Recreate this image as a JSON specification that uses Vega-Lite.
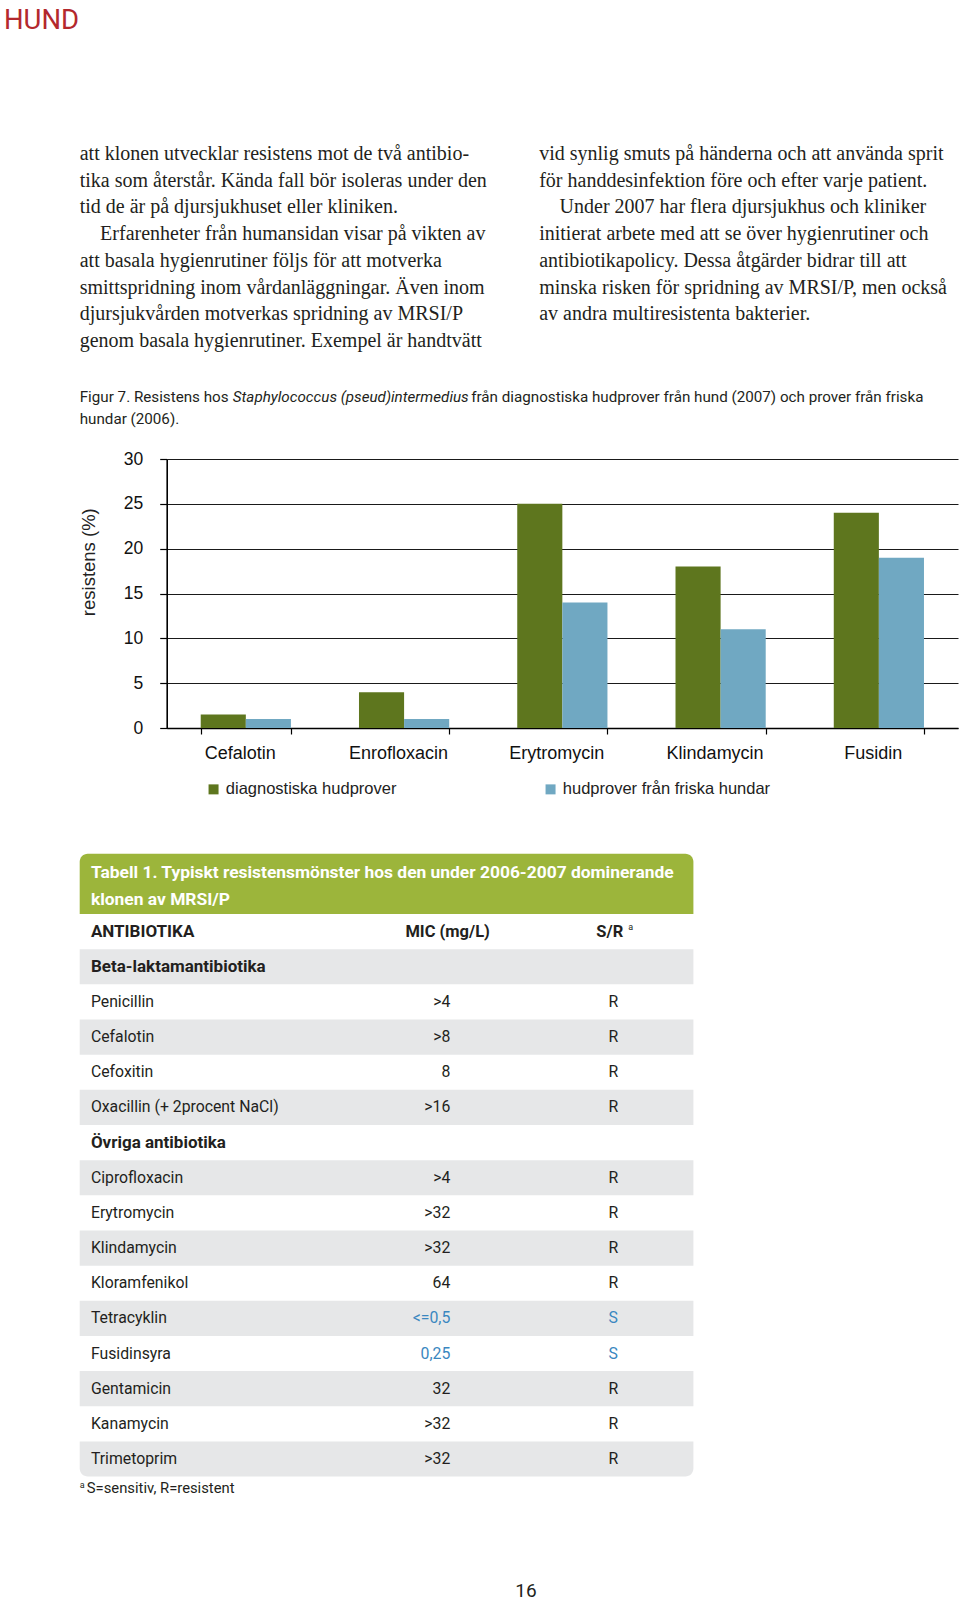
{
  "$schema": "https://vega.github.io/schema/vega-lite/v6.json",
  "background": "#ffffff",
  "padding": 0,
  "spacing": 0,
  "bounds": "flush",
  "config": {"view": {"stroke": null}},
  "resolve": {"scale": {"color": "independent"}, "legend": {"color": "independent"}},
  "vconcat": [
    {
      "width": 960,
      "height": 459,
      "resolve": {"scale": {"x": "independent", "y": "independent"}},
      "layer": [
        {
          "data": {"values": [{"heading": "HUND"}]},
          "mark": {"type": "text", "align": "left", "baseline": "alphabetic", "font": "Roboto", "fontSize": 27.5, "color": "#b3282d"},
          "encoding": {
            "x": {"datum": 0, "type": "quantitative", "scale": {"domain": [0, 1], "range": [4, 960], "nice": false}, "axis": null},
            "y": {"datum": 1, "type": "quantitative", "scale": {"domain": [0, 1], "range": [0, 28.6], "nice": false}, "axis": null},
            "text": {"field": "heading"}
          }
        },
        {
          "data": {"values": [
            {"col": 1, "line": 1, "para_start": false, "text": "att klonen utvecklar resistens mot de två antibio-"},
            {"col": 1, "line": 2, "para_start": false, "text": "tika som återstår. Kända fall bör isoleras under den"},
            {"col": 1, "line": 3, "para_start": false, "text": "tid de är på djursjukhuset eller kliniken."},
            {"col": 1, "line": 4, "para_start": true, "text": "Erfarenheter från humansidan visar på vikten av"},
            {"col": 1, "line": 5, "para_start": false, "text": "att basala hygienrutiner följs för att motverka"},
            {"col": 1, "line": 6, "para_start": false, "text": "smittspridning inom vårdanläggningar. Även inom"},
            {"col": 1, "line": 7, "para_start": false, "text": "djursjukvården motverkas spridning av MRSI/P"},
            {"col": 1, "line": 8, "para_start": false, "text": "genom basala hygienrutiner. Exempel är handtvätt"},
            {"col": 2, "line": 1, "para_start": false, "text": "vid synlig smuts på händerna och att använda sprit"},
            {"col": 2, "line": 2, "para_start": false, "text": "för handdesinfektion före och efter varje patient."},
            {"col": 2, "line": 3, "para_start": true, "text": "Under 2007 har flera djursjukhus och kliniker"},
            {"col": 2, "line": 4, "para_start": false, "text": "initierat arbete med att se över hygienrutiner och"},
            {"col": 2, "line": 5, "para_start": false, "text": "antibiotikapolicy. Dessa åtgärder bidrar till att"},
            {"col": 2, "line": 6, "para_start": false, "text": "minska risken för spridning av MRSI/P, men också"},
            {"col": 2, "line": 7, "para_start": false, "text": "av andra multiresistenta bakterier."}
          ]},
          "encoding": {
            "x": {"field": "col", "type": "quantitative", "scale": {"domain": [1, 2], "range": [79.7, 539.2], "nice": false, "zero": false}, "axis": null},
            "y": {"field": "line", "type": "quantitative", "scale": {"domain": [1, 8], "range": [154, 340.9], "nice": false, "zero": false}, "axis": null},
            "text": {"field": "text"}
          },
          "layer": [
            {"transform": [{"filter": "!datum.para_start"}], "mark": {"type": "text", "align": "left", "baseline": "middle", "font": "Liberation Serif", "fontSize": 20, "color": "#231f20"}},
            {"transform": [{"filter": "datum.para_start"}], "mark": {"type": "text", "align": "left", "baseline": "middle", "font": "Liberation Serif", "fontSize": 20, "color": "#231f20", "dx": 20.4}}
          ]
        },
        {
          "data": {"values": [
            {"line": 1, "part": "lead", "text": "Figur 7. Resistens hos"},
            {"line": 1, "part": "species", "text": "Staphylococcus (pseud)intermedius"},
            {"line": 1, "part": "rest", "text": "från diagnostiska hudprover från hund (2007) och prover från friska"},
            {"line": 2, "part": "lead", "text": "hundar (2006)."}
          ]},
          "encoding": {
            "x": {"datum": 0, "type": "quantitative", "scale": {"domain": [0, 1], "range": [79.7, 960], "nice": false}, "axis": null},
            "y": {"field": "line", "type": "quantitative", "scale": {"domain": [1, 2], "range": [397.3, 418.7], "nice": false, "zero": false}, "axis": null},
            "text": {"field": "text"}
          },
          "layer": [
            {"transform": [{"filter": "datum.part == 'lead'"}], "mark": {"type": "text", "align": "left", "baseline": "middle", "font": "Roboto", "fontSize": 15.2, "color": "#231f20"}},
            {"transform": [{"filter": "datum.part == 'species'"}], "mark": {"type": "text", "align": "left", "baseline": "middle", "font": "Roboto", "fontSize": 15.2, "fontStyle": "italic", "color": "#231f20", "dx": 153.1}},
            {"transform": [{"filter": "datum.part == 'rest'"}], "mark": {"type": "text", "align": "left", "baseline": "middle", "font": "Roboto", "fontSize": 15.2, "color": "#231f20", "dx": 391.5}}
          ]
        }
      ]
    },
    {
      "width": 960,
      "height": 269,
      "data": {"values": [
        {"antibiotic": "Cefalotin", "series": "diagnostiska hudprover", "resistance": 1.5},
        {"antibiotic": "Cefalotin", "series": "hudprover från friska hundar", "resistance": 1},
        {"antibiotic": "Enrofloxacin", "series": "diagnostiska hudprover", "resistance": 4},
        {"antibiotic": "Enrofloxacin", "series": "hudprover från friska hundar", "resistance": 1},
        {"antibiotic": "Erytromycin", "series": "diagnostiska hudprover", "resistance": 25},
        {"antibiotic": "Erytromycin", "series": "hudprover från friska hundar", "resistance": 14},
        {"antibiotic": "Klindamycin", "series": "diagnostiska hudprover", "resistance": 18},
        {"antibiotic": "Klindamycin", "series": "hudprover från friska hundar", "resistance": 11},
        {"antibiotic": "Fusidin", "series": "diagnostiska hudprover", "resistance": 24},
        {"antibiotic": "Fusidin", "series": "hudprover från friska hundar", "resistance": 19}
      ]},
      "mark": {"type": "bar"},
      "encoding": {
        "x": {
          "field": "antibiotic", "type": "nominal",
          "sort": ["Cefalotin", "Enrofloxacin", "Erytromycin", "Klindamycin", "Fusidin"],
          "scale": {"range": [166.7, 958], "paddingInner": 0.43, "paddingOuter": 0.215},
          "axis": {"title": null, "labelAngle": 0, "tickBand": "extent", "domainColor": "#000000", "domainWidth": 1.6, "tickColor": "#000000", "tickWidth": 1.2, "tickSize": 6, "labelFont": "Liberation Sans", "labelFontSize": 18, "labelColor": "#111111", "labelPadding": 10, "labelOffset": -6}
        },
        "xOffset": {"field": "series", "type": "nominal", "sort": ["diagnostiska hudprover", "hudprover från friska hundar"]},
        "y": {
          "field": "resistance", "type": "quantitative",
          "scale": {"domain": [0, 30], "nice": false},
          "axis": {"title": "resistens (%)", "titleFont": "Liberation Sans", "titleFontSize": 18.5, "titleFontWeight": "normal", "titleColor": "#222222", "titleX": -78.3, "titleY": 102.7, "titleAngle": 270, "titleAlign": "center", "titleBaseline": "middle", "values": [0, 5, 10, 15, 20, 25, 30], "offset": -166.7, "grid": true, "gridColor": "#1a1a1a", "gridWidth": 1.2, "domainColor": "#000000", "domainWidth": 1.6, "tickColor": "#000000", "tickWidth": 1.2, "tickSize": 7, "labelFont": "Liberation Sans", "labelFontSize": 17.5, "labelColor": "#111111", "labelPadding": 17}
        },
        "color": {
          "field": "series", "type": "nominal",
          "scale": {"domain": ["diagnostiska hudprover", "hudprover från friska hundar"], "range": ["#5e761e", "#70a8c2"]},
          "legend": {"orient": "none", "legendX": 205.3, "legendY": 322, "direction": "horizontal", "title": null, "symbolType": "square", "symbolSize": 100, "symbolStrokeWidth": 0, "labelFont": "Liberation Sans", "labelFontSize": 16.5, "labelColor": "#222222", "labelOffset": 4, "labelLimit": 400, "columnPadding": 145, "padding": 0}
        }
      }
    },
    {
      "width": 960,
      "height": 874,
      "resolve": {"scale": {"y": "independent"}},
      "layer": [
        {
          "data": {"values": [{"block": "title"}]},
          "mark": {"type": "rect", "color": "#9cb53b", "cornerRadiusTopLeft": 8, "cornerRadiusTopRight": 8},
          "encoding": {
            "x": {"datum": 0, "type": "quantitative", "scale": {"domain": [0, 100], "range": [79.7, 693.4], "nice": false, "zero": false}, "axis": null},
            "x2": {"datum": 100},
            "y": {"field": "block", "type": "nominal", "scale": {"range": [125.8, 186], "paddingInner": 0, "paddingOuter": 0}, "axis": null}
          }
        },
        {
          "data": {"values": [
            {"line": 1, "text": "Tabell 1. Typiskt resistensmönster hos den under 2006-2007 dominerande"},
            {"line": 2, "text": "klonen av MRSI/P"}
          ]},
          "mark": {"type": "text", "align": "left", "baseline": "middle", "font": "Roboto", "fontWeight": "bold", "fontSize": 17.4, "color": "#ffffff"},
          "encoding": {
            "x": {"datum": 1.825, "type": "quantitative", "scale": {"domain": [0, 100], "range": [79.7, 693.4], "nice": false, "zero": false}, "axis": null},
            "y": {"field": "line", "type": "quantitative", "scale": {"domain": [1, 2], "range": [145.2, 171.8], "nice": false, "zero": false}, "axis": null},
            "text": {"field": "text"}
          }
        },
        {
          "data": {"values": [
            {"row": 0, "kind": "header", "name": "ANTIBIOTIKA", "mic": "MIC (mg/L)", "sr": "S/R"},
            {"row": 1, "kind": "group", "name": "Beta-laktamantibiotika", "mic": "", "sr": ""},
            {"row": 2, "kind": "drug", "name": "Penicillin", "mic": ">4", "sr": "R"},
            {"row": 3, "kind": "drug", "name": "Cefalotin", "mic": ">8", "sr": "R"},
            {"row": 4, "kind": "drug", "name": "Cefoxitin", "mic": "8", "sr": "R"},
            {"row": 5, "kind": "drug", "name": "Oxacillin (+ 2procent NaCl)", "mic": ">16", "sr": "R"},
            {"row": 6, "kind": "group", "name": "Övriga antibiotika", "mic": "", "sr": ""},
            {"row": 7, "kind": "drug", "name": "Ciprofloxacin", "mic": ">4", "sr": "R"},
            {"row": 8, "kind": "drug", "name": "Erytromycin", "mic": ">32", "sr": "R"},
            {"row": 9, "kind": "drug", "name": "Klindamycin", "mic": ">32", "sr": "R"},
            {"row": 10, "kind": "drug", "name": "Kloramfenikol", "mic": "64", "sr": "R"},
            {"row": 11, "kind": "drug", "name": "Tetracyklin", "mic": "<=0,5", "sr": "S"},
            {"row": 12, "kind": "drug", "name": "Fusidinsyra", "mic": "0,25", "sr": "S"},
            {"row": 13, "kind": "drug", "name": "Gentamicin", "mic": "32", "sr": "R"},
            {"row": 14, "kind": "drug", "name": "Kanamycin", "mic": ">32", "sr": "R"},
            {"row": 15, "kind": "drug", "name": "Trimetoprim", "mic": ">32", "sr": "R"}
          ]},
          "encoding": {
            "y": {"field": "row", "type": "ordinal", "scale": {"domain": [0, 1, 2, 3, 4, 5, 6, 7, 8, 9, 10, 11, 12, 13, 14, 15], "range": [186, 748.6], "paddingInner": 0, "paddingOuter": 0}, "axis": null}
          },
          "layer": [
            {
              "transform": [{"filter": "datum.row % 2 == 1 && datum.row < 15"}],
              "mark": {"type": "rect", "color": "#e6e7e8"},
              "encoding": {
                "x": {"datum": 0, "type": "quantitative", "scale": {"domain": [0, 100], "range": [79.7, 693.4], "nice": false, "zero": false}, "axis": null},
                "x2": {"datum": 100}
              }
            },
            {
              "transform": [{"filter": "datum.row == 15"}],
              "mark": {"type": "rect", "color": "#e6e7e8", "cornerRadiusBottomLeft": 8, "cornerRadiusBottomRight": 8},
              "encoding": {
                "x": {"datum": 0, "type": "quantitative", "scale": {"domain": [0, 100], "range": [79.7, 693.4], "nice": false, "zero": false}, "axis": null},
                "x2": {"datum": 100}
              }
            },
            {
              "transform": [{"filter": "datum.kind != 'drug'"}],
              "mark": {"type": "text", "align": "left", "baseline": "middle", "font": "Roboto", "fontWeight": "bold", "fontSize": 17, "color": "#231f20"},
              "encoding": {
                "x": {"datum": 1.825, "type": "quantitative", "scale": {"domain": [0, 100], "range": [79.7, 693.4], "nice": false, "zero": false}, "axis": null},
                "text": {"field": "name"}
              }
            },
            {
              "transform": [{"filter": "datum.kind == 'drug'"}],
              "mark": {"type": "text", "align": "left", "baseline": "middle", "font": "Roboto", "fontSize": 15.8, "color": "#231f20"},
              "encoding": {
                "x": {"datum": 1.825, "type": "quantitative", "scale": {"domain": [0, 100], "range": [79.7, 693.4], "nice": false, "zero": false}, "axis": null},
                "text": {"field": "name"}
              }
            },
            {
              "transform": [{"filter": "datum.kind == 'drug'"}],
              "mark": {"type": "text", "align": "right", "baseline": "middle", "font": "Roboto", "fontSize": 15.8},
              "encoding": {
                "x": {"datum": 60.4, "type": "quantitative", "scale": {"domain": [0, 100], "range": [79.7, 693.4], "nice": false, "zero": false}, "axis": null},
                "text": {"field": "mic"},
                "color": {"condition": {"test": "datum.sr == 'S'", "value": "#3a87c0"}, "value": "#231f20"}
              }
            },
            {
              "transform": [{"filter": "datum.kind == 'drug'"}],
              "mark": {"type": "text", "align": "center", "baseline": "middle", "font": "Roboto", "fontSize": 15.8},
              "encoding": {
                "x": {"datum": 86.95, "type": "quantitative", "scale": {"domain": [0, 100], "range": [79.7, 693.4], "nice": false, "zero": false}, "axis": null},
                "text": {"field": "sr"},
                "color": {"condition": {"test": "datum.sr == 'S'", "value": "#3a87c0"}, "value": "#231f20"}
              }
            },
            {
              "transform": [{"filter": "datum.kind == 'header'"}],
              "mark": {"type": "text", "align": "left", "baseline": "middle", "font": "Roboto", "fontWeight": "bold", "fontSize": 16.5, "color": "#231f20"},
              "encoding": {
                "x": {"datum": 53.07, "type": "quantitative", "scale": {"domain": [0, 100], "range": [79.7, 693.4], "nice": false, "zero": false}, "axis": null},
                "text": {"field": "mic"}
              }
            },
            {
              "transform": [{"filter": "datum.kind == 'header'"}],
              "mark": {"type": "text", "align": "left", "baseline": "middle", "font": "Roboto", "fontWeight": "bold", "fontSize": 16.5, "color": "#231f20"},
              "encoding": {
                "x": {"datum": 84.19, "type": "quantitative", "scale": {"domain": [0, 100], "range": [79.7, 693.4], "nice": false, "zero": false}, "axis": null},
                "text": {"field": "sr"}
              }
            },
            {
              "transform": [{"filter": "datum.kind == 'header'"}],
              "mark": {"type": "text", "align": "left", "baseline": "middle", "font": "Roboto", "fontSize": 9, "color": "#231f20", "dy": -5},
              "encoding": {
                "x": {"datum": 89.4, "type": "quantitative", "scale": {"domain": [0, 100], "range": [79.7, 693.4], "nice": false, "zero": false}, "axis": null},
                "text": {"value": "a"}
              }
            }
          ]
        },
        {
          "data": {"values": [
            {"item": "footnote", "text": "S=sensitiv, R=resistent"},
            {"item": "page", "text": "16"}
          ]},
          "encoding": {
            "y": {"field": "item", "type": "nominal", "scale": {"type": "point", "domain": ["footnote", "page"], "range": [761.1, 863.1], "padding": 0}, "axis": null},
            "text": {"field": "text"}
          },
          "layer": [
            {
              "transform": [{"filter": "datum.item == 'footnote'"}],
              "mark": {"type": "text", "align": "left", "baseline": "middle", "font": "Roboto", "fontSize": 14.8, "color": "#231f20"},
              "encoding": {
                "x": {"datum": 1.157, "type": "quantitative", "scale": {"domain": [0, 100], "range": [79.7, 693.4], "nice": false, "zero": false}, "axis": null}
              }
            },
            {
              "transform": [{"filter": "datum.item == 'footnote'"}],
              "mark": {"type": "text", "align": "left", "baseline": "middle", "font": "Roboto", "fontSize": 9, "color": "#231f20", "dy": -4},
              "encoding": {
                "x": {"datum": 0, "type": "quantitative", "scale": {"domain": [0, 100], "range": [79.7, 693.4], "nice": false, "zero": false}, "axis": null},
                "text": {"value": "a"}
              }
            },
            {
              "transform": [{"filter": "datum.item == 'page'"}],
              "mark": {"type": "text", "align": "center", "baseline": "middle", "font": "Roboto", "fontSize": 19, "color": "#231f20"},
              "encoding": {
                "x": {"datum": 72.72, "type": "quantitative", "scale": {"domain": [0, 100], "range": [79.7, 693.4], "nice": false, "zero": false}, "axis": null}
              }
            }
          ]
        }
      ]
    }
  ]
}
